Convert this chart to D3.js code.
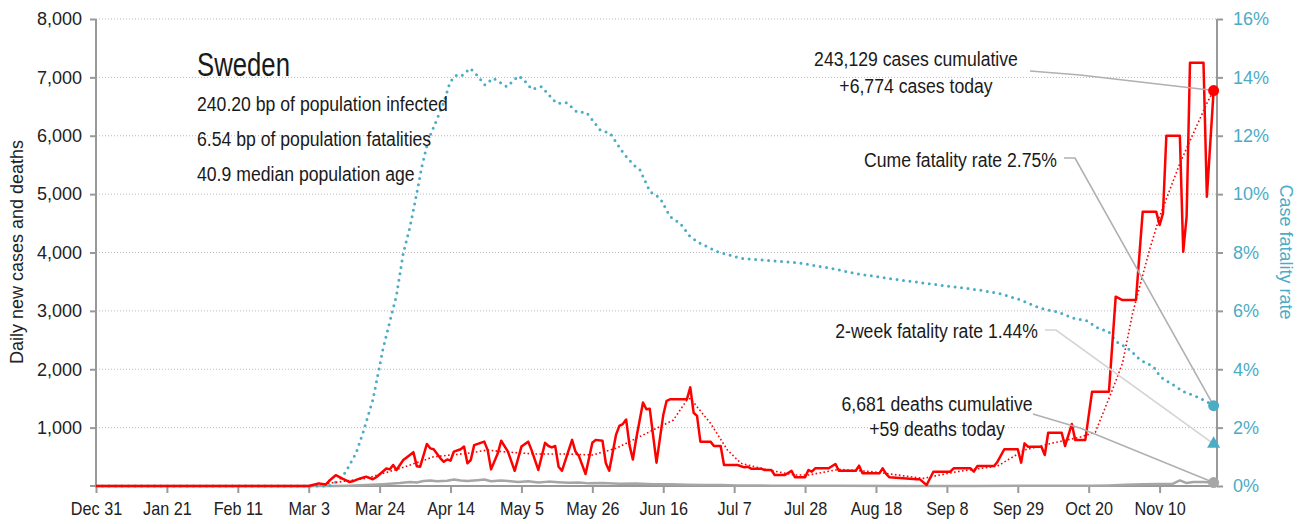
<html>
<script src='https://d3js.org/d3.v7.min.js'></script>
<style>
body {margin: 0; background: #fff;}
text {font-family: 'Liberation Sans', Arial, sans-serif;}
</style>
<body>
<svg width=1306 height=524></svg>
<script>
// days counted from Dec 31 2019
var start = new Date(2019, 11, 31);

var xTickLabels = ["Dec 31","Jan 21","Feb 11","Mar 3","Mar 24","Apr 14","May 5","May 26",
                   "Jun 16","Jul 7","Jul 28","Aug 18","Sep 8","Sep 29","Oct 20","Nov 10"];
var leftTicks = [1000,2000,3000,4000,5000,6000,7000,8000];
var rightTicks = [0,0.02,0.04,0.06,0.08,0.10,0.12,0.14,0.16];

// daily new cases [day, value]
var cases = [[0,0],[63,0],[66,45],[68,25],[69,85],[71,185],[73,125],[75,70],[76,80],[78,125],
  [80,160],[82,115],[83,150],[86,300],[87,285],[88,360],[89,275],[91,445],[92,490],[94,580],
  [95,340],[96,330],[98,720],[99,645],[100,630],[102,475],[103,415],[104,455],[105,435],[106,590],
  [108,630],[109,675],[110,390],[111,445],[112,700],[115,760],[116,615],[117,285],[119,560],[120,775],
  [122,590],[124,260],[126,675],[128,760],[129,615],[131,275],[133,740],[134,685],[135,660],[136,685],
  [137,330],[138,260],[140,615],[141,790],[142,590],[143,515],[145,205],[147,740],[148,790],[150,775],
  [151,390],[152,260],[154,875],[155,1030],[156,1060],[157,1140],[158,700],[159,455],[160,815],
  [162,1430],[163,1315],[164,1325],[166,400],[168,1215],[169,1460],[170,1485],[175,1485],[176,1690],
  [177,1255],[178,1200],[179,760],[182,760],[183,685],[185,685],[186,360],[190,360],[192,320],[193,330],
  [194,297],[197,297],[198,274],[200,274],[201,188],[204,188],[206,260],[207,150],[210,150],[211,274],
  [212,245],[213,303],[217,303],[219,377],[220,262],[225,262],[226,348],[227,217],[232,217],[233,303],
  [234,206],[235,149],[239,131],[243,114],[244,114],[246,17],[248,245],[253,245],[254,303],[259,303],
  [260,245],[261,342],[266,342],[267,417],[269,630],[273,630],[274,400],[275,730],[276,673],[280,673],
  [281,531],[282,913],[286,913],[287,685],[289,1062],[290,790],[293,790],[295,1616],[300,1616],
  [302,3243],[304,3186],[308,3186],[310,4700],[314,4700],[315,4470],[316,4670],[317,6000],[321,6000],
  [322,4014],[323,4613],[324,7250],[328,7250],[329,4956],[331,6774]];

// case trend (dotted red)
var casesTrend = [[0,0],[63,0],[70,55],[80,130],[90,300],[100,500],[110,560],[116,617],[120,590],
  [130,548],[140,548],[147,531],[154,645],[161,845],[167,1016],[171,1130],[175,1473],[176,1500],
  [182,1074],[187,617],[191,389],[199,274],[207,188],[211,188],[220,285],[230,245],[245,131],
  [255,245],[267,342],[275,617],[283,731],[292,845],[296,925],[301,1645],[304,2100],[307,2958],
  [312,4043],[315,4613],[321,5527],[329,6556],[331,6774]];

// daily deaths
var deaths = [[0,0],[70,0],[75,5],[80,15],[85,30],[90,50],[93,70],[95,60],[97,85],[99,95],[101,80],
  [104,90],[106,110],[108,95],[110,85],[113,100],[115,110],[117,80],[120,95],[122,85],[125,70],
  [128,80],[131,60],[134,75],[137,65],[140,55],[143,60],[146,45],[150,50],[155,40],[160,42],[165,30],
  [170,28],[175,20],[180,18],[185,15],[190,10],[200,6],[210,4],[220,3],[240,2],[260,2],[280,3],
  [295,5],[300,10],[305,20],[310,30],[315,35],[319,40],[321,95],[323,50],[325,70],[328,70],[331,59]];

// cumulative case fatality rate
var cfr = [[0,0],[69,0],[72,0.002],[74,0.0049],[77,0.0112],[79,0.018],[82,0.0295],[85,0.047],
  [89,0.0654],[91,0.0797],[93,0.0888],[95,0.1003],[96.5,0.1094],[98.4,0.1185],[100.9,0.1254],
  [102.9,0.1311],[104.9,0.1385],[106.8,0.1408],[108.3,0.1405],[110.8,0.1431],[112.8,0.1408],
  [115.2,0.1374],[117.7,0.1397],[121.7,0.1368],[125.1,0.1405],[126.6,0.1393],[129.1,0.1359],
  [132,0.1368],[135.5,0.1322],[136.5,0.1311],[139.4,0.1313],[142.4,0.1282],[145.3,0.1279],
  [149.3,0.122],[152.3,0.1208],[156.2,0.114],[159.2,0.110],[161.1,0.1083],[164.1,0.1008],
  [167.1,0.0986],[170,0.0923],[173,0.090],[176,0.0854],[179,0.0831],[184,0.0803],[191,0.078],
  [208.5,0.0764],[217,0.0747],[226,0.0726],[238,0.0706],[250,0.0688],[262,0.0671],[268,0.0658],
  [274,0.0637],[279.6,0.0609],[284.6,0.0597],[289.5,0.0575],[293.5,0.0566],[296.9,0.054],
  [299.9,0.0529],[302.3,0.0494],[306.3,0.0466],[309.2,0.0432],[313.2,0.0409],[315.2,0.0374],
  [319.1,0.0346],[322.1,0.0323],[326,0.0306],[329,0.0289],[331,0.0275]];

var lastDay = 331;
var twoWeekCfr = 0.0144;
var lastDeaths = 59;

function day(d) { return start.getTime() + d * 864e5; }

var svg = d3.select("svg");

var x = d3.scaleTime()
          .domain([start, d3.timeDay.offset(start, 332)])
          .range([96, 1217]);
var y = d3.scaleLinear().domain([0, 8000]).range([486, 19]);
var yr = d3.scaleLinear().domain([0, 0.16]).range([486, 19]);

// gridlines
svg.append("g")
.selectAll("line")
.data(leftTicks)
.enter()
.append("line")
.attr("x1", 96).attr("x2", 1217)
.attr("y1", function(d) {return y(d);})
.attr("y2", function(d) {return y(d);})
.style("stroke", "#b8b8b8")
.style("stroke-width", 1)
.style("stroke-dasharray", "1,2");

// left axis
var y_axis = d3.axisLeft(y).tickValues(leftTicks).tickFormat(d3.format(",")).tickSize(6).tickPadding(8);
var gl = svg.append("g").attr("transform", "translate(96,0)").call(y_axis);
gl.select(".domain").attr("d", "M0,19V486").style("stroke", "#999").style("stroke-width", 2);
gl.selectAll(".tick line").style("stroke", "#999").style("stroke-width", 2);
gl.selectAll(".tick text").style("font-size", "18px").style("fill", "#222");

// right axis
var r_axis = d3.axisRight(yr).tickValues(rightTicks).tickFormat(d3.format(".0%")).tickSize(6).tickPadding(10);
var gr = svg.append("g").attr("transform", "translate(1217,0)").call(r_axis);
gr.select(".domain").attr("d", "M0,19V486").style("stroke", "#999").style("stroke-width", 2);
gr.selectAll(".tick line").style("stroke", "#999").style("stroke-width", 2);
gr.selectAll(".tick text").style("font-size", "18px").style("fill", "#4bacc6");

// bottom axis
var tickDates = xTickLabels.map(function(l, i) {return d3.timeDay.offset(start, 21 * i);});
var x_axis = d3.axisBottom(x).tickValues(tickDates)
               .tickFormat(function(d, i) {return xTickLabels[i];}).tickSize(7).tickPadding(9);
var gb = svg.append("g").attr("transform", "translate(0,486)").call(x_axis);
gb.select(".domain").attr("d", "M90,0H1217").style("stroke", "#999").style("stroke-width", 2);
gb.selectAll(".tick line").style("stroke", "#999").style("stroke-width", 2);
gb.selectAll(".tick text").style("font-size", "18px").style("fill", "#222")
.attr("transform", "scale(0.9,1)");

// axis titles
svg.append("text")
.attr("transform", "translate(23,252) rotate(-90)")
.attr("text-anchor", "middle")
.style("font-size", "18px").style("fill", "#222")
.text("Daily new cases and deaths");

svg.append("text")
.attr("transform", "translate(1280,252) rotate(90)")
.attr("text-anchor", "middle")
.style("font-size", "18px").style("fill", "#4bacc6")
.text("Case fatality rate");

var line = d3.line()
             .x(function(d) {return x(day(d[0]));})
             .y(function(d) {return y(d[1]);});
var lineR = d3.line()
             .x(function(d) {return x(day(d[0]));})
             .y(function(d) {return yr(d[1]);});

// deaths
svg.append("path").datum(deaths).attr("d", line)
.style("fill", "none").style("stroke", "#a6a6a6").style("stroke-width", 2.5)
.style("stroke-linejoin", "round");

// CFR dotted
svg.append("path").datum(cfr).attr("d", lineR)
.style("fill", "none").style("stroke", "#4bacc6").style("stroke-width", 3)
.style("stroke-linecap", "round").style("stroke-dasharray", "0,6.5");

// cases trend
svg.append("path").datum(casesTrend).attr("d", line)
.style("fill", "none").style("stroke", "#ff0000").style("stroke-width", 1.6)
.style("stroke-dasharray", "1.6,2.4");

// cases
svg.append("path").datum(cases).attr("d", line)
.style("fill", "none").style("stroke", "#ff0000").style("stroke-width", 2.5)
.style("stroke-linejoin", "round");

// condensed text helper
function label(g, t, px, py, size, anchor, k) {
  return g.append("text")
  .attr("transform", "translate(" + px + "," + py + ") scale(" + k + ",1)")
  .attr("text-anchor", anchor)
  .style("font-size", size + "px").style("fill", "#1a1a1a")
  .text(t);
}

// title block
label(svg, "Sweden", 197, 76, 33, "start", 0.78);
var info = ["240.20 bp of population infected", "6.54 bp of population fatalities", "40.9 median population age"];
info.forEach(function(t, i) { label(svg, t, 197, 111 + i * 35, 21, "start", 0.84); });

// leader lines and end markers
var ex = x(day(lastDay));
var leaders = [
  {pts: [[1030,71],[1080,75],[ex, y(cases[cases.length-1][1])]], c: "#b0b0b0"},
  {pts: [[1064,158],[1075,158],[ex, yr(cfr[cfr.length-1][1])]], c: "#b0b0b0"},
  {pts: [[1045,330],[1056,330],[ex, yr(twoWeekCfr)]], c: "#d4d4d4"},
  {pts: [[1033,414],[1080,428],[ex, y(lastDeaths)]], c: "#b0b0b0"}
];
svg.append("g").selectAll("path").data(leaders).enter().append("path")
.attr("d", function(d) {return d3.line()(d.pts);})
.style("fill", "none").style("stroke", function(d) {return d.c;}).style("stroke-width", 1.6);

svg.append("circle").attr("cx", ex).attr("cy", y(cases[cases.length-1][1])).attr("r", 5.5).style("fill", "#ff0000");
svg.append("circle").attr("cx", ex).attr("cy", yr(cfr[cfr.length-1][1])).attr("r", 5.5).style("fill", "#4bacc6");
svg.append("path").attr("transform", "translate(" + ex + "," + yr(twoWeekCfr) + ")")
.attr("d", d3.symbol().type(d3.symbolTriangle).size(75)).style("fill", "#4bacc6");
svg.append("circle").attr("cx", ex).attr("cy", y(lastDeaths)).attr("r", 5.5).style("fill", "#a6a6a6");

// annotation texts
var notes = [
  {t: "243,129 cases cumulative", x: 916, y: 66, a: "middle"},
  {t: "+6,774 cases today", x: 916, y: 93, a: "middle"},
  {t: "Cume fatality rate 2.75%", x: 1057, y: 167, a: "end"},
  {t: "2-week fatality rate 1.44%", x: 1038, y: 338, a: "end"},
  {t: "6,681 deaths cumulative", x: 937, y: 411, a: "middle"},
  {t: "+59 deaths today", x: 937, y: 436, a: "middle"}
];
notes.forEach(function(d) { label(svg, d.t, d.x, d.y, 21, d.a, 0.84); });
</script>
</body>
</html>
